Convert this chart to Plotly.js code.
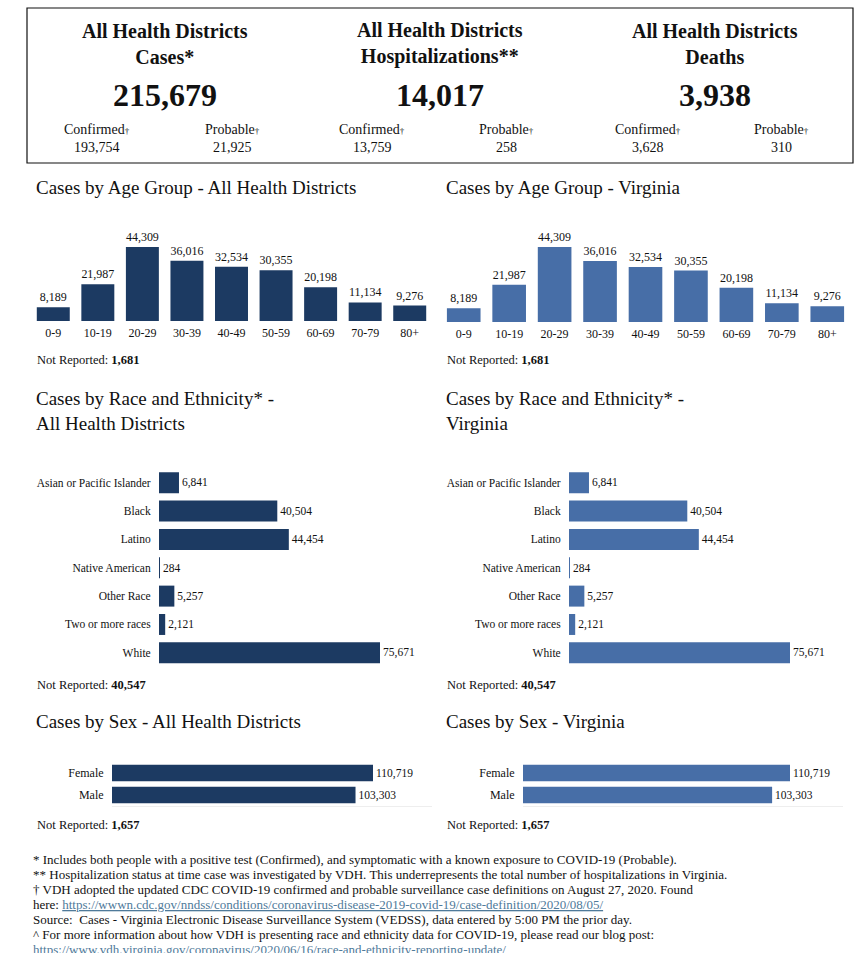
<!DOCTYPE html>
<html><head><meta charset="utf-8">
<script src="https://cdn.plot.ly/plotly-3.0.1.min.js"></script>
<style>html,body{margin:0;padding:0;background:#fff}#chart{width:863px;height:953px}</style>
</head><body><div id="chart"></div>
<script>
// ---- data ----
const summaryTitles = ['All Health Districts<br>Cases*', 'All Health Districts<br>Hospitalizations**', 'All Health Districts<br>Deaths'];
const summaryTotals = [215679, 14017, 3938];
const summaryConfirmed = [193754, 13759, 3628];
const summaryProbable = [21925, 258, 310];

const ageGroups = ['0-9','10-19','20-29','30-39','40-49','50-59','60-69','70-79','80+'];
const ageCases = [8189, 21987, 44309, 36016, 32534, 30355, 20198, 11134, 9276];
const ageNotReported = 1681;

const raceGroups = ['Asian or Pacific Islander','Black','Latino','Native American','Other Race','Two or more races','White'];
const raceCases = [6841, 40504, 44454, 284, 5257, 2121, 75671];
const raceNotReported = 40547;

const sexGroups = ['Female','Male'];
const sexCases = [110719, 103303];
const sexNotReported = 1657;

const panelTitles = ['Cases by Age Group - All Health Districts','Cases by Age Group - Virginia',
  'Cases by Race and Ethnicity* -<br>All Health Districts','Cases by Race and Ethnicity* -<br>Virginia',
  'Cases by Sex - All Health Districts','Cases by Sex - Virginia'];

const footnotes = [
  '* Includes both people with a positive test (Confirmed), and symptomatic with a known exposure to COVID-19 (Probable).',
  '** Hospitalization status at time case was investigated by VDH. This underrepresents the total number of hospitalizations in Virginia.',
  '† VDH adopted the updated CDC COVID-19 confirmed and probable surveillance case definitions on August 27, 2020. Found',
  'here: <span style="color:#4f7a9a;text-decoration:underline">https://wwwn.cdc.gov/nndss/conditions/coronavirus-disease-2019-covid-19/case-definition/2020/08/05/</span>',
  'Source:  Cases - Virginia Electronic Disease Surveillance System (VEDSS), data entered by 5:00 PM the prior day.',
  '^ For more information about how VDH is presenting race and ethnicity data for COVID-19, please read our blog post:',
  '<span style="color:#4f7a9a;text-decoration:underline">https://www.vdh.virginia.gov/coronavirus/2020/06/16/race-and-ethnicity-reporting-update/</span>'
];

// ---- layout helpers ----
const W = 863, H = 953;
const FONT = 'Liberation Serif, Times New Roman, serif';
const DARK = '#1c3a62', LIGHT = '#476ea7';
const X = px => px / W;
const Y = py => 1 - py / H;
const fmt = v => v.toLocaleString('en-US');
const ann = [];
function A(text, x, y, size, opts) {
  ann.push(Object.assign({text: text, x: X(x), y: Y(y), xref: 'paper', yref: 'paper',
    showarrow: false, xanchor: 'center', yanchor: 'middle',
    font: {family: FONT, size: size, color: '#111'}}, opts || {}));
}

// summary box
const colC = [165, 440, 715], confC = [97, 372, 648], probC = [232, 506, 781];
for (let i = 0; i < 3; i++) {
  A('<b>' + summaryTitles[i] + '</b>', colC[i], 43.5, 20);
  A('<b>' + fmt(summaryTotals[i]) + '</b>', colC[i], 95, 32);
  A('Confirmed<span style="font-size:9px">†</span>', confC[i], 130, 14);
  A(fmt(summaryConfirmed[i]), confC[i], 148, 14);
  A('Probable<span style="font-size:9px">†</span>', probC[i], 130, 14);
  A(fmt(summaryProbable[i]), probC[i], 148, 14);
}

// panel titles
const L = {xanchor: 'left'};
A(panelTitles[0], 34, 187, 19, L);
A(panelTitles[1], 444, 187, 19, L);
A(panelTitles[2], 34, 411, 19, Object.assign({align: 'left'}, L));
A(panelTitles[3], 444, 411, 19, Object.assign({align: 'left'}, L));
A(panelTitles[4], 34, 721, 19, L);
A(panelTitles[5], 444, 721, 19, L);

// not reported
A('Not Reported: <b>' + fmt(ageNotReported) + '</b>', 35, 360, 12.5, L);
A('Not Reported: <b>' + fmt(ageNotReported) + '</b>', 445, 360, 12.5, L);
A('Not Reported: <b>' + fmt(raceNotReported) + '</b>', 35, 685, 12.5, L);
A('Not Reported: <b>' + fmt(raceNotReported) + '</b>', 445, 685, 12.5, L);
A('Not Reported: <b>' + fmt(sexNotReported) + '</b>', 35, 825, 12.5, L);
A('Not Reported: <b>' + fmt(sexNotReported) + '</b>', 445, 825, 12.5, L);

// footnotes
const fy = [859, 874, 889, 904, 919, 934, 949];
footnotes.forEach((t, i) => A(t, 31, fy[i], 13, L));

// ---- traces ----
const tf = {family: FONT, size: 12, color: '#111'};
const traces = [];
function ageTrace(color, xa, ya) {
  return {type: 'bar', x: ageGroups, y: ageCases, marker: {color: color},
    text: ageCases.map(fmt), textposition: 'outside', textfont: tf, cliponaxis: false,
    hoverinfo: 'x+y', xaxis: xa, yaxis: ya};
}
function hTrace(cats, vals, color, xa, ya, size) {
  return {type: 'bar', orientation: 'h', y: cats, x: vals, marker: {color: color},
    text: vals.map(fmt), textposition: 'outside', textfont: Object.assign({}, tf, {size: size}),
    cliponaxis: false, hoverinfo: 'x+y', xaxis: xa, yaxis: ya};
}
traces.push(ageTrace(DARK, 'x', 'y'));
traces.push(ageTrace(LIGHT, 'x2', 'y2'));
traces.push(hTrace(raceGroups, raceCases, DARK, 'x3', 'y3', 11.5));
traces.push(hTrace(raceGroups, raceCases, LIGHT, 'x4', 'y4', 11.5));
traces.push(hTrace(sexGroups, sexCases, DARK, 'x5', 'y5', 11.5));
traces.push(hTrace(sexGroups, sexCases, LIGHT, 'x6', 'y6', 11.5));

const hidden = {visible: false, fixedrange: true};
const catX = (d, anchor) => ({domain: d, anchor: anchor, type: 'category', showgrid: false, zeroline: false,
  showline: false, ticks: 'outside', ticklen: 1, tickcolor: 'rgba(0,0,0,0)',
  tickfont: {family: FONT, size: 12, color: '#111'}, fixedrange: true});
const catY = (d, anchor, size) => ({domain: d, anchor: anchor, type: 'category', autorange: 'reversed',
  showgrid: false, zeroline: false, showline: false, ticks: 'outside', ticklen: 5,
  tickcolor: 'rgba(0,0,0,0)', tickfont: {family: FONT, size: size, color: '#111'}, fixedrange: true});
const valX = (d, anchor, r, line) => ({domain: d, anchor: anchor, range: r, showgrid: false, zeroline: false,
  showticklabels: false, ticks: '', showline: line, linecolor: '#eeeeee', linewidth: 1, fixedrange: true});

const raceRange = [0, 75671 * 271 / 221];
const layout = {
  width: W, height: H, margin: {l: 0, r: 0, t: 0, b: 0}, paper_bgcolor: '#fff', plot_bgcolor: 'rgba(0,0,0,0)',
  showlegend: false, font: {family: FONT, color: '#111'}, bargap: 0.26,
  xaxis: catX([X(31), X(432)], 'y'),
  yaxis: Object.assign({domain: [Y(321), Y(230)], anchor: 'x', range: [0, 44309 * 91 / 74]}, hidden),
  xaxis2: catX([X(441), X(850)], 'y2'),
  yaxis2: Object.assign({domain: [Y(322), Y(231)], anchor: 'x2', range: [0, 44309 * 91 / 75]}, hidden),
  xaxis3: valX([X(159), X(430)], 'y3', raceRange, false),
  yaxis3: catY([Y(667), Y(468.5)], 'x3', 11.5),
  xaxis4: valX([X(569), X(840)], 'y4', raceRange, false),
  yaxis4: catY([Y(667), Y(468.5)], 'x4', 11.5),
  xaxis5: valX([X(112), X(432)], 'y5', [0, 110719 * 320 / 261], true),
  yaxis5: catY([Y(806), Y(762)], 'x5', 12),
  xaxis6: valX([X(523), X(843)], 'y6', [0, 110719 * 320 / 267], true),
  yaxis6: catY([Y(806), Y(762)], 'x6', 12),
  annotations: ann,
  shapes: [{type: 'rect', xref: 'paper', yref: 'paper', x0: X(27), x1: X(853), y0: Y(163), y1: Y(8),
    line: {color: '#111', width: 1.2}, fillcolor: 'rgba(0,0,0,0)'}]
};
Plotly.newPlot('chart', traces, layout, {displayModeBar: false, staticPlot: false});
</script></body></html>
